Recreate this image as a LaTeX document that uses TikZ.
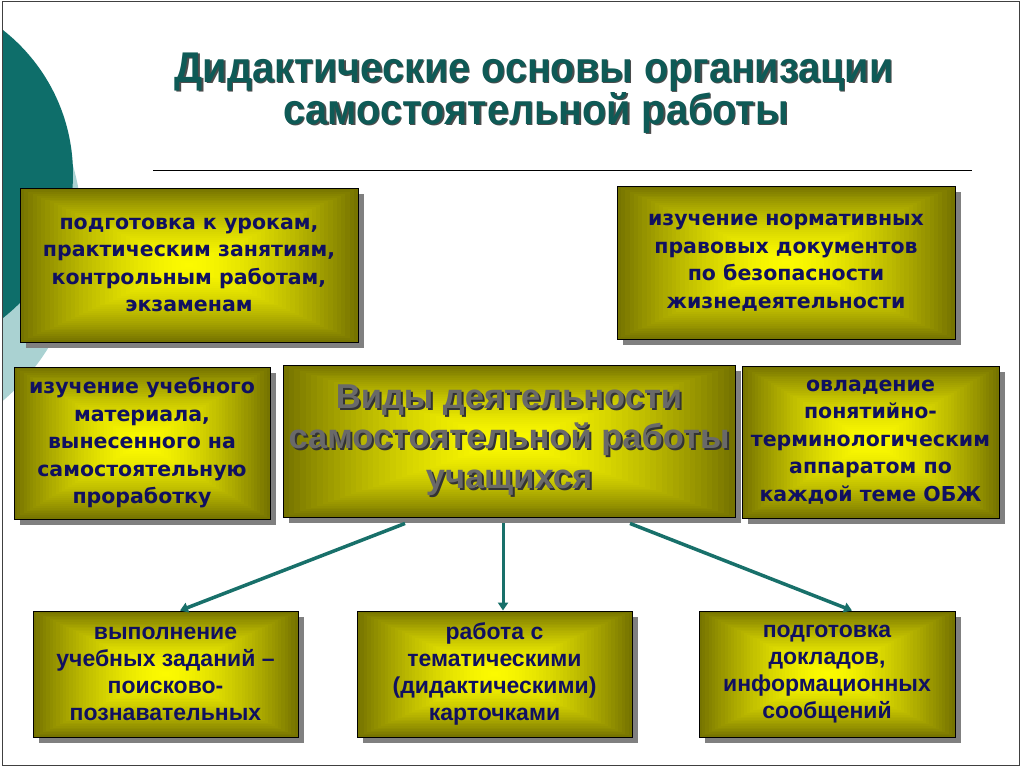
\documentclass[tikz,border=0pt]{standalone}
\usepackage{fontspec}
\newfontfamily\titlefont[FakeStretch=0.92]{Liberation Sans}
\newfontfamily\tahfont{DejaVu Sans}
\newfontfamily\arfont{Liberation Sans}
\usetikzlibrary{calc,shadows,arrows.meta}
\definecolor{tealdark}{RGB}{14,110,106}
\definecolor{teallight}{RGB}{170,210,210}
\definecolor{titlecol}{RGB}{14,90,86}
\definecolor{boxin}{RGB}{252,250,0}
\definecolor{boxout}{RGB}{118,116,0}
\definecolor{navy}{RGB}{16,16,96}
\definecolor{arrowcol}{RGB}{24,112,106}
\definecolor{midgray}{RGB}{105,105,105}
\newcommand\shline[3]{\leavevmode\rlap{\kern#1\raisebox{-#1}{\color{#2}#3}}#3}
\tikzset{
  ybox/.style={draw=black, line width=0.9pt, inner sep=0pt, align=center, text=navy,
    drop shadow={shadow xshift=6pt, shadow yshift=-6pt, fill=black!50, opacity=1},
    path picture={
      \foreach \i in {0,...,39}{
        \pgfmathsetmacro\ff{1-\i/40}
        \pgfmathsetmacro\pp{100*(1-\ff^1.6)}
        \fill[boxin!\pp!boxout]
          ($(path picture bounding box.center)!\ff!(path picture bounding box.north east)$)
          rectangle
          ($(path picture bounding box.center)!\ff!(path picture bounding box.south west)$);
      }
    }},
  tahtext/.style={font=\tahfont\bfseries\fontsize{20.5}{27.5}\selectfont},
  artext/.style={font=\arfont\bfseries\fontsize{23}{27}\selectfont},
  conn/.style={draw=arrowcol, line width=3.5pt, -{Triangle[width=10pt,length=8pt]}},
  titletext/.style={font=\titlefont\bfseries\fontsize{43}{40}\selectfont, text=titlecol, anchor=base, inner sep=0pt}
}
\begin{document}
\begin{tikzpicture}[x=1pt,y=-1pt]
\useasboundingbox (0,0) rectangle (1024,768);
\fill[white] (0,0) rectangle (1024,768);
\begin{scope}
  \clip (2,2) rectangle (1019,765);
  \fill[teallight] (-144,229) circle[radius=226];
  \fill[tealdark] (-110,174) circle[radius=183];
\end{scope}
\draw[black!75, line width=1pt] (2,1.5) rectangle (1019,765);

% title
\node[titletext] (t1) at (534,82) {\shline{1.5pt}{black!70}{Дидактические основы организации}};
\node[titletext] (t2) at (536,124) {\shline{1.5pt}{black!70}{самостоятельной работы}};
\draw[black, line width=1pt] (153,170) coordinate (l1) -- (972,170) coordinate (l2);

% boxes
\node[ybox, tahtext, minimum width=338pt, minimum height=154pt] (b1) at (189,265)
  {подготовка к урокам,\\практическим занятиям,\\контрольным работам,\\экзаменам};
\node[ybox, tahtext, minimum width=338pt, minimum height=153pt] (b2) at (786,262.5)
  {изучение нормативных\\правовых документов\\по безопасности\\жизнедеятельности};
\node[ybox, tahtext, minimum width=256pt, minimum height=152pt] (b3) at (142,443)
  {изучение учебного\\материала,\\вынесенного на\\самостоятельную\\проработку};
\node[ybox, minimum width=452pt, minimum height=152pt, text=midgray,
  font=\arfont\bfseries\fontsize{34.5}{40}\selectfont] (b4) at (509,441)
  {\shline{2pt}{black!80}{Виды деятельности}\\\shline{2pt}{black!80}{самостоятельной работы}\\\shline{2pt}{black!80}{учащихся}};
\node[ybox, tahtext, minimum width=257pt, minimum height=152pt] (b5) at (870.5,442)
  {овладение\\понятийно-\\терминологическим\\аппаратом по\\каждой теме ОБЖ};
\node[ybox, artext, minimum width=265pt, minimum height=126pt] (b6) at (165.5,674)
  {выполнение\\учебных заданий –\\поисково-\\познавательных};
\node[ybox, artext, minimum width=275pt, minimum height=126pt] (b7) at (494.5,674)
  {работа с\\тематическими\\(дидактическими)\\карточками};
\node[ybox, artext, minimum width=256pt, minimum height=126pt] (b8) at (827,674)
  {подготовка\\докладов,\\информационных\\сообщений};

% connectors
\draw[conn] ([xshift=-104pt,yshift=-6pt]b4.south) -- ([xshift=14.5pt]b6.north);
\draw[conn, line width=3pt] ([xshift=-6pt,yshift=-6pt]b4.south) -- ([xshift=8.5pt]b7.north);
\draw[conn] ([xshift=121pt,yshift=-6pt]b4.south) -- ([xshift=25pt]b8.north);
\end{tikzpicture}
\end{document}
